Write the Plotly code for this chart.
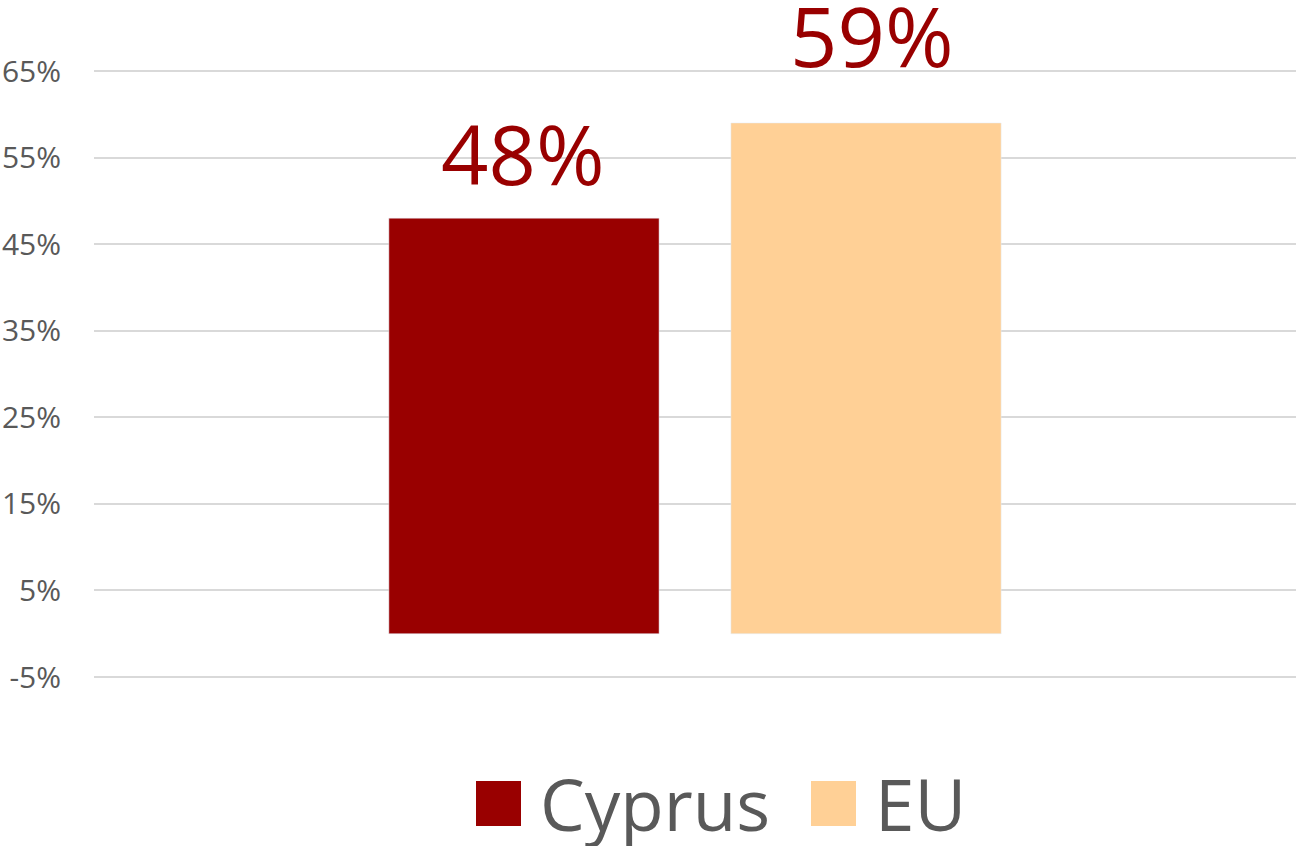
import plotly.graph_objects as go

series_names = ["Cyprus", "EU"]
series_values = [48, 59]
series_colors = ["#990000", "#FFD096"]
tick_values = [-5, 5, 15, 25, 35, 45, 55, 65]
tick_labels = ["-5%", "5%", "15%", "25%", "35%", "45%", "55%", "65%"]
label_yshifts = [7, 30]
label_xshifts = [-1, 6]

W, H = 1300, 846
ML, MR, MT, MB = 94, 4, 69, 167
PW, PH = W - ML - MR, H - MT - MB

def px_x(px):
    return (px - ML) / PW

def px_y(py):
    return (H - MB - py) / PH

fig = go.Figure()
for name, val, col, ys, xs in zip(series_names, series_values, series_colors,
                                  label_yshifts, label_xshifts):
    fig.add_trace(go.Bar(x=[name], y=[val], name=name, marker_color=col,
                         width=0.79, showlegend=False, hoverinfo="skip"))
    fig.add_annotation(x=name, y=val, xref="x", yref="y", text=f"{val}%",
                       showarrow=False, yanchor="bottom", yshift=ys, xshift=xs,
                       font=dict(family="Open Sans", size=83, color="#990000"))

# custom legend (large square swatches)
leg_sq_x = [476, 811]
for name, col, sx in zip(series_names, series_colors, leg_sq_x):
    fig.add_shape(type="rect", xref="paper", yref="paper",
                  x0=px_x(sx), x1=px_x(sx + 45), y0=px_y(826), y1=px_y(781),
                  fillcolor=col, line_width=0)
    fig.add_annotation(x=px_x(sx + 62), y=px_y(803), xref="paper", yref="paper",
                       text=name, showarrow=False, xanchor="left", yanchor="middle",
                       font=dict(family="Open Sans", size=71, color="#595959"))

fig.update_layout(
    width=W, height=H,
    margin=dict(l=ML, r=MR, t=MT, b=MB, autoexpand=False),
    plot_bgcolor="white", paper_bgcolor="white",
    barmode="overlay",
    showlegend=False,
    xaxis=dict(range=[-1.257, 2.257], showticklabels=False, showgrid=False,
               zeroline=False, showline=False, ticks="", automargin=False),
    yaxis=dict(range=[-5.231, 65.231], tickvals=tick_values, ticktext=tick_labels,
               showgrid=True, gridcolor="#D9D9D9", gridwidth=1.5,
               zeroline=False, showline=False, automargin=False,
               ticks="outside", ticklen=26, tickcolor="rgba(0,0,0,0)",
               tickfont=dict(family="Open Sans", size=30, color="#595959")),
)

fig.write_html("out.html", config={"displayModeBar": False},
               post_script="document.body.style.margin='0';document.body.style.overflow='hidden';")
